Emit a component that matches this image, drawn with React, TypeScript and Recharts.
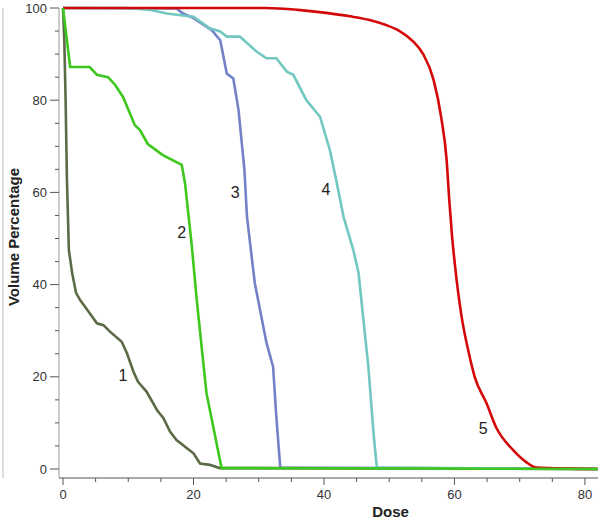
import { LineChart, Line, XAxis, YAxis, ReferenceDot } from 'recharts';

// dose-volume histogram, 5 structures
const curve1Dose = [0, 0.2, 0.4, 0.6, 0.9, 1.4, 2, 2.6, 4.1, 5.2, 6.2, 7.2, 9.0, 9.8, 10.8, 11.5, 12.8, 14.4, 15.4, 16.4, 17.4, 19, 20, 21, 22.5, 24, 82];
const curve1Vol = [100, 93, 80, 63, 47.5, 42.5, 38.2, 36.7, 33.8, 31.6, 31.2, 29.8, 27.6, 25.1, 21.1, 18.9, 16.8, 12.8, 11, 8.1, 6.3, 4.5, 3.4, 1.2, 0.9, 0.2, 0];

const curve2Dose = [0, 1.1, 4.1, 5.2, 6.9, 8, 9.2, 11, 11.8, 13, 15.3, 18.2, 18.7, 19.7, 20.5, 21.3, 22, 24.3, 82];
const curve2Vol = [100, 87.2, 87.2, 85.5, 85, 83.3, 80.7, 74.6, 73.5, 70.5, 68.1, 66, 62, 49, 36.7, 25.8, 16.4, 0.2, 0];

const curve3Dose = [0, 17.4, 18.4, 20, 22.8, 24.1, 24.6, 25.1, 26.1, 26.9, 27.8, 28.2, 29.4, 31.2, 32.2, 32.7, 33.3, 82];
const curve3Vol = [100, 99.9, 98.8, 97.8, 95.2, 93, 89.4, 85.8, 84.7, 77.9, 65, 54.7, 40.3, 27.3, 22.2, 11.3, 0.3, 0];

const curve4Dose = [0, 10, 13.3, 15.9, 20, 22.5, 24.1, 25.1, 27.1, 29.7, 31.2, 32.7, 34.3, 35.3, 37.3, 39.4, 40.9, 41.9, 43, 44.5, 45.3, 46, 46.8, 47.6, 48.1, 82];
const curve4Vol = [100, 100, 99.6, 98.8, 98.1, 95.6, 94.9, 93.8, 93.8, 90.5, 89.1, 89.1, 86.2, 85.5, 80, 76.4, 69.2, 62.5, 54.7, 47.5, 42.5, 33, 22.2, 7.7, 0.3, 0];

const curve5Dose = [0, 31, 36, 40, 44, 47, 49.5, 51.6, 53.7, 55.2, 56.8, 58, 58.8, 59.2, 59.6, 60.1, 61.1, 62.1, 63.1, 64.9, 66.4, 69, 71, 72.6, 82];
const curve5Vol = [100, 100, 99.6, 99.0, 98.2, 97.4, 96.3, 95.0, 92.7, 90.0, 84.4, 76, 67, 58.4, 51, 43.9, 33, 25.8, 20, 14.3, 9, 4.1, 1.5, 0.3, 0];

const curveNames = ['1', '2', '3', '4', '5'];
const labelDose = [9.2, 18.2, 26.4, 40.3, 64.4];
const labelVol = [20.4, 51.4, 60.1, 60.7, 8.9];

const xTicks = [0, 5, 10, 15, 20, 25, 30, 35, 40, 45, 50, 55, 60, 65, 70, 75, 80];
const yTicks = [0, 5, 10, 15, 20, 25, 30, 35, 40, 45, 50, 55, 60, 65, 70, 75, 80, 85, 90, 95, 100];

const zip = (d: number[], v: number[]) => d.map((dose, i) => ({ dose, vol: v[i] }));

const series = [
  { id: '1', data: zip(curve1Dose, curve1Vol), color: '#5b6b46', type: 'linear' },
  { id: '3', data: zip(curve3Dose, curve3Vol), color: '#7481c6', type: 'linear' },
  { id: '4', data: zip(curve4Dose, curve4Vol), color: '#72c7c1', type: 'linear' },
  { id: '5', data: zip(curve5Dose, curve5Vol), color: '#d40808', type: 'monotone' },
  { id: '2', data: zip(curve2Dose, curve2Vol), color: '#3ec71c', type: 'linear' },
];

const FONT = '"Liberation Sans", Arial, sans-serif';

const YTick = (props: any) => {
  const { x, y, payload } = props;
  const axisX = x + 12;
  const major = payload.value % 20 === 0;
  return (
    <g>
      <line x1={axisX - (major ? 9 : 4)} y1={y} x2={axisX} y2={y} stroke="#555" strokeWidth={1} />
      {major && (
        <text x={x} y={y} dy="0.35em" textAnchor="end" fill="#333" fontSize={13} fontFamily={FONT}>
          {payload.value}
        </text>
      )}
    </g>
  );
};

const XTick = (props: any) => {
  const { x, y, payload } = props;
  const axisY = y - 12;
  const major = payload.value % 20 === 0;
  return (
    <g>
      <line x1={x} y1={axisY} x2={x} y2={axisY + (major ? 7 : 4)} stroke="#555" strokeWidth={1} />
      {major && (
        <text x={x} y={y} dy="0.71em" textAnchor="middle" fill="#333" fontSize={13} fontFamily={FONT}>
          {payload.value}
        </text>
      )}
    </g>
  );
};

export default function App() {
  return (
    <div style={{ position: 'absolute', left: 0, top: 0, width: 600, height: 520, background: '#fff' }}>
      <LineChart width={600} height={520} margin={{ top: 8, right: 2, left: 0, bottom: 0 }}>
        <XAxis
          dataKey="dose"
          type="number"
          domain={[0, 82]}
          ticks={xTicks}
          interval={0}
          padding={{ left: 4, right: 0 }}
          height={42}
          tickSize={7}
          tickMargin={5}
          tickLine={false}
          tick={<XTick />}
          axisLine={{ stroke: '#555', strokeWidth: 1 }}
          label={{
            value: 'Dose',
            position: 'insideBottom',
            offset: 3,
            dx: 62,
            style: { fontFamily: FONT, fontSize: 15, fontWeight: 'bold', fill: '#222' },
          }}
        />
        <YAxis
          yAxisId="edge"
          orientation="left"
          width={3}
          domain={[0, 100]}
          tick={false}
          tickLine={false}
          axisLine={{ stroke: '#bbb', strokeWidth: 1 }}
        />
        <YAxis
          dataKey="vol"
          type="number"
          domain={[0, 100]}
          ticks={yTicks}
          interval={0}
          padding={{ top: 0, bottom: 9 }}
          width={56}
          tickSize={9}
          tickMargin={3}
          tickLine={false}
          tick={<YTick />}
          axisLine={{ stroke: '#999', strokeWidth: 1 }}
          label={{
            content: (p: any) => {
              const vb = p.viewBox;
              const cy = vb.y + vb.height / 2 - 6;
              return (
                <text
                  x={13}
                  y={cy}
                  transform={`rotate(-90, 13, ${cy})`}
                  textAnchor="middle"
                  dominantBaseline="central"
                  fontFamily={FONT}
                  fontSize={15}
                  fontWeight="bold"
                  fill="#222"
                >
                  Volume Percentage
                </text>
              );
            },
          }}
        />
        {series.map((s) => (
          <Line
            key={s.id}
            data={s.data}
            dataKey="vol"
            type={s.type as any}
            stroke={s.color}
            strokeWidth={2.6}
            dot={false}
            activeDot={false}
            isAnimationActive={false}
          />
        ))}
        {curveNames.map((name, i) => (
          <ReferenceDot
            key={name}
            x={labelDose[i]}
            y={labelVol[i]}
            r={0}
            stroke="none"
            fill="none"
            label={{
              value: name,
              position: 'center',
              style: { fontFamily: FONT, fontSize: 16, fill: '#222' },
            }}
          />
        ))}
      </LineChart>
    </div>
  );
}
